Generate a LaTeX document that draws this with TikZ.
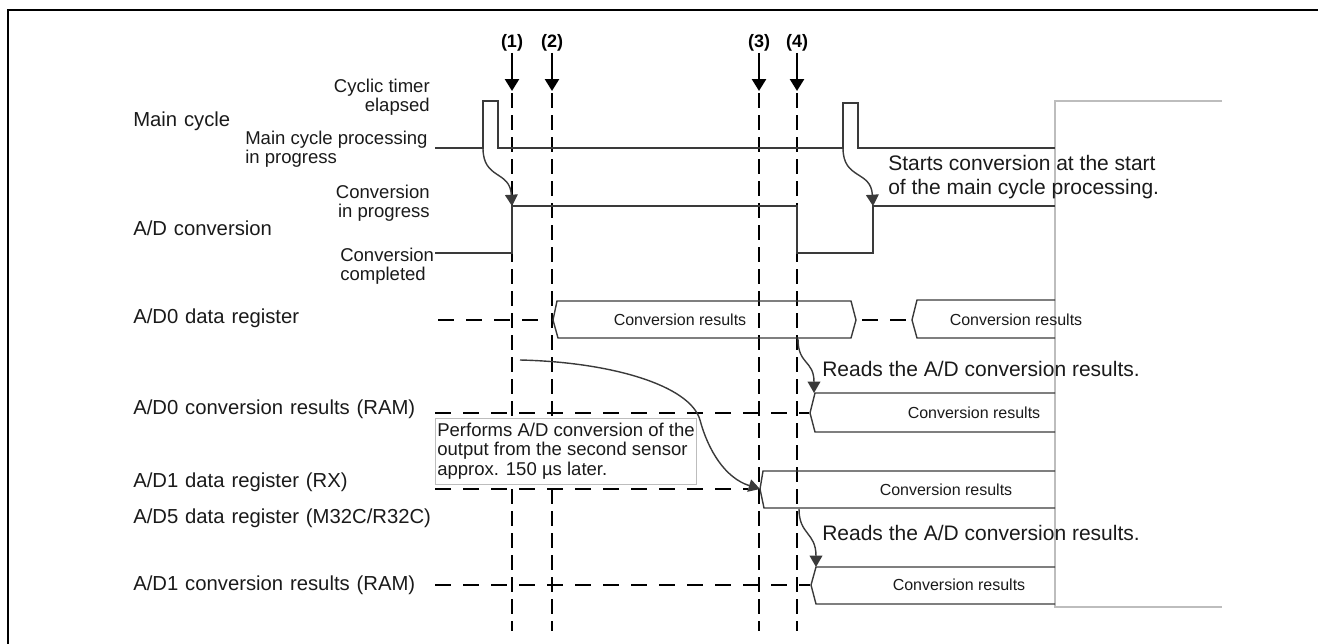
\documentclass[tikz,border=0pt]{standalone}
\usepackage{fontspec}
\setmainfont{Liberation Sans}
\usetikzlibrary{arrows.meta}
\definecolor{sig}{HTML}{3A3A3A}
\definecolor{txt}{HTML}{1A1A1A}
\definecolor{maskgray}{HTML}{BDBDBD}
\newcommand\mywidesp{\spaceskip=0.34em\relax}
\begin{document}
\begin{tikzpicture}[x=0.75pt,y=-0.75pt,
  lab/.style={inner sep=0pt, text=txt, font=\fontsize{15.2}{18}\selectfont\mywidesp},
  sm/.style={inner sep=0pt, text=txt, font=\fontsize{13.9}{14.6}\selectfont},
  ann/.style={inner sep=0pt, text=txt, font=\fontsize{15.75}{18}\selectfont},
  res/.style={inner sep=0pt, text=txt, font=\fontsize{12}{14}\selectfont},
  mk/.style={inner sep=1pt, text=black, font=\bfseries\fontsize{13.5}{15}\selectfont},
  sigline/.style={draw=sig, line width=1.05pt, line join=miter},
  hdash/.style={draw=black, line width=1.9pt, dash pattern=on 12pt off 9pt},
  vdash/.style={draw=black, line width=1.9pt, dash pattern=on 11pt off 5.5pt},
  tip/.style={-{Triangle[width=10.5pt,length=9pt]}},
  ctip/.style={-{Triangle[width=9.5pt,length=8.5pt]}},
]
\useasboundingbox (0,0) rectangle (1318,643);

% outer frame (cut by the page)
\draw[line width=1.6pt] (1330,10) -- (8,10) -- (8,660);

% gray mask outline
\draw[draw=maskgray, line width=0.8pt] (1222,101) -- (1055,101) -- (1055,607) -- (1222,607);

% row labels
\node[lab, anchor=west] (lmain) at (133,121) {Main cycle};
\node[lab, anchor=west] (lad)   at (133,228) {A/D conversion};
\node[lab, anchor=west] (lad0)  at (133,318) {A/D0 data register};
\node[lab, anchor=west] (lad0r) at (133,409) {A/D0 conversion results (RAM)};
\node[lab, anchor=west] (lad1)  at (133,482) {A/D1 data register (RX)};
\node[lab, anchor=west] (lad5)  at (133,518) {A/D5 data register (M32C/R32C)};
\node[lab, anchor=west] (lad1r) at (133,585) {A/D1 conversion results (RAM)};

% state labels
\node[sm, anchor=east, align=right] (cyc) at (430,97) {Cyclic timer\\elapsed};
\node[sm, anchor=west, align=left]  (mcp) at (245,149) {Main cycle processing\\in progress};
\node[sm, anchor=east, align=right] (cip) at (430,203) {Conversion\\in progress};
\node[sm, anchor=west, align=left]  (cc)  at (340,266) {Conversion\\completed};

% markers (1)-(4)
\foreach \n/\x in {1/512,2/552,3/759,4/797}{
  \node[mk] (m\n) at (\x,43) {(\n)};
  \coordinate (t\n) at (\x,91);
  \coordinate (s\n) at (\x,93);
  \coordinate (e\n) at (\x,631);
  \draw[line width=1.9pt, tip] (m\n.south) -- (t\n);
  \draw[vdash] (s\n) -- (e\n);
}

% main cycle signal
\draw[sigline] (435,148) -- (483,148) -- (483,101) -- (498,101) -- (498,148)
  -- (843,148) -- (843,103) -- (858,103) -- (858,148) -- (1055,148);

% A/D conversion signal
\draw[sigline] (435,253) -- (512,253) -- (512,206) -- (797,206) -- (797,253)
  -- (873,253) -- (873,206) -- (1055,206);

% trigger curves
\draw[sigline, ctip] (483,148) .. controls (483,180) and (510,170) .. (512,206);
\draw[sigline, ctip] (843,148) .. controls (843,180) and (871,170) .. (873,206);

% dashed (invalid) portions
\draw[hdash] (438,320) -- (545,320);
\draw[hdash] (862,320) -- (910,320);
\draw[hdash] (435,413) -- (809,413);
\draw[hdash] (435,489) -- (748,489);
\draw[hdash] (435,585) -- (810,585);

% bus boxes
\draw[sigline] (557,301) -- (851,301) -- (856,320) -- (851,338) -- (558,338) -- (553,320) -- cycle;
\draw[sigline] (1055,300) -- (917,300) -- (912,320) -- (917,338) -- (1055,338);
\draw[sigline] (1055,393) -- (815,393) -- (810,413) -- (815,432) -- (1055,432);
\draw[sigline] (1055,471) -- (763,471) -- (760,489) -- (764,508) -- (1055,508);
\draw[sigline] (1055,567) -- (816,567) -- (811,585) -- (816,604) -- (1055,604);

\node[res] (r1) at (680,320) {Conversion results};
\node[res] (r2) at (1016,320) {Conversion results};
\node[res] (r3) at (974,413) {Conversion results};
\node[res] (r4) at (946,490) {Conversion results};
\node[res] (r5) at (959,585) {Conversion results};

% read curves
\draw[sigline, ctip] (798,339) .. controls (798,365) and (814,360) .. (814,393);
\draw[sigline, ctip] (799,509) .. controls (799,535) and (816,532) .. (816,567);

% long curve to second conversion
\draw[sigline, ctip] (520,360) .. controls (610,362) and (690,385) .. (700,420)
  .. controls (708,450) and (725,478) .. (760,489);

% note box
\node[draw=maskgray, fill=white, line width=0.7pt, anchor=north west, inner sep=0pt,
      minimum width=195.75pt, minimum height=49.5pt] (perf) at (435,418) {};
\node[sm, anchor=west, align=left] (perft) at (437,451)
  {Performs A/D conversion of the\\output from the second sensor\\approx. 150 µs later.};

% annotations
\node[ann, anchor=west, align=left] (starts) at (888,177)
  {Starts conversion at the start\\of the main cycle processing.};
\node[ann, anchor=west] (reads1) at (822,369) {Reads the A/D conversion results.};
\node[ann, anchor=west] (reads2) at (822,533) {Reads the A/D conversion results.};
\end{tikzpicture}
\end{document}
